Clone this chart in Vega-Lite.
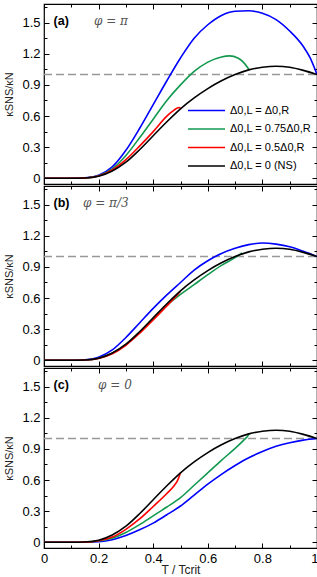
{
"$schema": "https://vega.github.io/schema/vega-lite/v6.json",
"padding": {"left": 2, "top": 2, "right": 1, "bottom": 0},
"spacing": 2,
"bounds": "flush",
"config": {
  "view": {"stroke": "#000", "strokeWidth": 1.2},
  "font": "Liberation Sans",
  "axis": {"domain": false, "grid": false, "tickColor": "#000", "tickWidth": 1, "labelFont": "Liberation Sans", "labelFontSize": 13, "labelColor": "#000", "labelFlush": false, "titleFont": "Liberation Sans", "titleFontWeight": "normal", "titleColor": "#222", "zindex": 1}
},
"resolve": {"scale": {"color": "independent"}},
"datasets": {"curves": [
{"p":"a","s":"full","T":0,"k":0},{"p":"a","s":"full","T":0.05,"k":0},{"p":"a","s":"full","T":0.1,"k":0},{"p":"a","s":"full","T":0.15,"k":0.004},{"p":"a","s":"full","T":0.2,"k":0.03},{"p":"a","s":"full","T":0.25,"k":0.11},{"p":"a","s":"full","T":0.3,"k":0.27},{"p":"a","s":"full","T":0.35,"k":0.48},{"p":"a","s":"full","T":0.4,"k":0.71},{"p":"a","s":"full","T":0.45,"k":0.94},{"p":"a","s":"full","T":0.5,"k":1.16},{"p":"a","s":"full","T":0.55,"k":1.35},{"p":"a","s":"full","T":0.6,"k":1.48},{"p":"a","s":"full","T":0.65,"k":1.57},{"p":"a","s":"full","T":0.7,"k":1.61},{"p":"a","s":"full","T":0.75,"k":1.615},{"p":"a","s":"full","T":0.8,"k":1.59},{"p":"a","s":"full","T":0.85,"k":1.53},{"p":"a","s":"full","T":0.9,"k":1.42},{"p":"a","s":"full","T":0.95,"k":1.27},{"p":"a","s":"full","T":0.975,"k":1.16},{"p":"a","s":"full","T":1,"k":1.0},
{"p":"a","s":"0.75","T":0,"k":0},{"p":"a","s":"0.75","T":0.05,"k":0},{"p":"a","s":"0.75","T":0.1,"k":0},{"p":"a","s":"0.75","T":0.15,"k":0.003},{"p":"a","s":"0.75","T":0.2,"k":0.025},{"p":"a","s":"0.75","T":0.25,"k":0.09},{"p":"a","s":"0.75","T":0.3,"k":0.22},{"p":"a","s":"0.75","T":0.35,"k":0.39},{"p":"a","s":"0.75","T":0.4,"k":0.57},{"p":"a","s":"0.75","T":0.45,"k":0.75},{"p":"a","s":"0.75","T":0.5,"k":0.9},{"p":"a","s":"0.75","T":0.55,"k":1.03},{"p":"a","s":"0.75","T":0.6,"k":1.12},{"p":"a","s":"0.75","T":0.65,"k":1.17},{"p":"a","s":"0.75","T":0.68,"k":1.18},{"p":"a","s":"0.75","T":0.71,"k":1.16},{"p":"a","s":"0.75","T":0.73,"k":1.12},{"p":"a","s":"0.75","T":0.745,"k":1.07},{"p":"a","s":"0.75","T":0.75,"k":1.05},
{"p":"a","s":"0.5","T":0,"k":0},{"p":"a","s":"0.5","T":0.05,"k":0},{"p":"a","s":"0.5","T":0.1,"k":0},{"p":"a","s":"0.5","T":0.15,"k":0.003},{"p":"a","s":"0.5","T":0.2,"k":0.022},{"p":"a","s":"0.5","T":0.25,"k":0.08},{"p":"a","s":"0.5","T":0.3,"k":0.18},{"p":"a","s":"0.5","T":0.35,"k":0.31},{"p":"a","s":"0.5","T":0.4,"k":0.45},{"p":"a","s":"0.5","T":0.45,"k":0.6},{"p":"a","s":"0.5","T":0.47,"k":0.645},{"p":"a","s":"0.5","T":0.485,"k":0.672},{"p":"a","s":"0.5","T":0.495,"k":0.682},{"p":"a","s":"0.5","T":0.5,"k":0.675},
{"p":"b","s":"full","T":0,"k":0},{"p":"b","s":"full","T":0.05,"k":0},{"p":"b","s":"full","T":0.1,"k":0},{"p":"b","s":"full","T":0.15,"k":0.004},{"p":"b","s":"full","T":0.2,"k":0.03},{"p":"b","s":"full","T":0.25,"k":0.1},{"p":"b","s":"full","T":0.3,"k":0.22},{"p":"b","s":"full","T":0.35,"k":0.36},{"p":"b","s":"full","T":0.4,"k":0.5},{"p":"b","s":"full","T":0.45,"k":0.63},{"p":"b","s":"full","T":0.5,"k":0.75},{"p":"b","s":"full","T":0.55,"k":0.87},{"p":"b","s":"full","T":0.6,"k":0.96},{"p":"b","s":"full","T":0.65,"k":1.03},{"p":"b","s":"full","T":0.7,"k":1.08},{"p":"b","s":"full","T":0.75,"k":1.115},{"p":"b","s":"full","T":0.8,"k":1.13},{"p":"b","s":"full","T":0.85,"k":1.12},{"p":"b","s":"full","T":0.9,"k":1.095},{"p":"b","s":"full","T":0.95,"k":1.05},{"p":"b","s":"full","T":1,"k":1.0},
{"p":"b","s":"0.75","T":0,"k":0},{"p":"b","s":"0.75","T":0.05,"k":0},{"p":"b","s":"0.75","T":0.1,"k":0},{"p":"b","s":"0.75","T":0.15,"k":0.003},{"p":"b","s":"0.75","T":0.2,"k":0.02},{"p":"b","s":"0.75","T":0.25,"k":0.068},{"p":"b","s":"0.75","T":0.3,"k":0.152},{"p":"b","s":"0.75","T":0.35,"k":0.27},{"p":"b","s":"0.75","T":0.4,"k":0.405},{"p":"b","s":"0.75","T":0.45,"k":0.53},{"p":"b","s":"0.75","T":0.5,"k":0.635},{"p":"b","s":"0.75","T":0.55,"k":0.73},{"p":"b","s":"0.75","T":0.6,"k":0.825},{"p":"b","s":"0.75","T":0.65,"k":0.915},{"p":"b","s":"0.75","T":0.7,"k":0.99},{"p":"b","s":"0.75","T":0.725,"k":1.035},
{"p":"b","s":"0.5","T":0,"k":0},{"p":"b","s":"0.5","T":0.05,"k":0},{"p":"b","s":"0.5","T":0.1,"k":0},{"p":"b","s":"0.5","T":0.15,"k":0.003},{"p":"b","s":"0.5","T":0.2,"k":0.018},{"p":"b","s":"0.5","T":0.25,"k":0.063},{"p":"b","s":"0.5","T":0.3,"k":0.145},{"p":"b","s":"0.5","T":0.35,"k":0.26},{"p":"b","s":"0.5","T":0.4,"k":0.39},{"p":"b","s":"0.5","T":0.45,"k":0.525},{"p":"b","s":"0.5","T":0.49,"k":0.635},{"p":"b","s":"0.5","T":0.5,"k":0.665},
{"p":"c","s":"full","T":0,"k":0},{"p":"c","s":"full","T":0.05,"k":0},{"p":"c","s":"full","T":0.1,"k":0},{"p":"c","s":"full","T":0.15,"k":0.001},{"p":"c","s":"full","T":0.2,"k":0.006},{"p":"c","s":"full","T":0.25,"k":0.025},{"p":"c","s":"full","T":0.3,"k":0.065},{"p":"c","s":"full","T":0.35,"k":0.12},{"p":"c","s":"full","T":0.4,"k":0.185},{"p":"c","s":"full","T":0.45,"k":0.265},{"p":"c","s":"full","T":0.5,"k":0.35},{"p":"c","s":"full","T":0.55,"k":0.455},{"p":"c","s":"full","T":0.6,"k":0.56},{"p":"c","s":"full","T":0.65,"k":0.655},{"p":"c","s":"full","T":0.7,"k":0.74},{"p":"c","s":"full","T":0.75,"k":0.815},{"p":"c","s":"full","T":0.8,"k":0.875},{"p":"c","s":"full","T":0.85,"k":0.925},{"p":"c","s":"full","T":0.9,"k":0.96},{"p":"c","s":"full","T":0.95,"k":0.985},{"p":"c","s":"full","T":1,"k":1.0},
{"p":"c","s":"0.75","T":0,"k":0},{"p":"c","s":"0.75","T":0.05,"k":0},{"p":"c","s":"0.75","T":0.1,"k":0},{"p":"c","s":"0.75","T":0.15,"k":0.002},{"p":"c","s":"0.75","T":0.2,"k":0.012},{"p":"c","s":"0.75","T":0.25,"k":0.04},{"p":"c","s":"0.75","T":0.3,"k":0.095},{"p":"c","s":"0.75","T":0.35,"k":0.17},{"p":"c","s":"0.75","T":0.4,"k":0.255},{"p":"c","s":"0.75","T":0.45,"k":0.34},{"p":"c","s":"0.75","T":0.5,"k":0.43},{"p":"c","s":"0.75","T":0.55,"k":0.55},{"p":"c","s":"0.75","T":0.6,"k":0.67},{"p":"c","s":"0.75","T":0.65,"k":0.79},{"p":"c","s":"0.75","T":0.7,"k":0.905},{"p":"c","s":"0.75","T":0.73,"k":0.98},{"p":"c","s":"0.75","T":0.745,"k":1.02},{"p":"c","s":"0.75","T":0.752,"k":1.045},
{"p":"c","s":"0.5","T":0,"k":0},{"p":"c","s":"0.5","T":0.05,"k":0},{"p":"c","s":"0.5","T":0.1,"k":0},{"p":"c","s":"0.5","T":0.15,"k":0.002},{"p":"c","s":"0.5","T":0.2,"k":0.015},{"p":"c","s":"0.5","T":0.25,"k":0.05},{"p":"c","s":"0.5","T":0.3,"k":0.125},{"p":"c","s":"0.5","T":0.35,"k":0.225},{"p":"c","s":"0.5","T":0.4,"k":0.345},{"p":"c","s":"0.5","T":0.45,"k":0.47},{"p":"c","s":"0.5","T":0.475,"k":0.54},{"p":"c","s":"0.5","T":0.49,"k":0.6},{"p":"c","s":"0.5","T":0.5,"k":0.67},
{"p":"all","s":"NS","T":0,"k":0},{"p":"all","s":"NS","T":0.05,"k":0},{"p":"all","s":"NS","T":0.1,"k":0},{"p":"all","s":"NS","T":0.15,"k":0.003},{"p":"all","s":"NS","T":0.2,"k":0.02},{"p":"all","s":"NS","T":0.25,"k":0.07},{"p":"all","s":"NS","T":0.3,"k":0.155},{"p":"all","s":"NS","T":0.35,"k":0.275},{"p":"all","s":"NS","T":0.4,"k":0.41},{"p":"all","s":"NS","T":0.45,"k":0.545},{"p":"all","s":"NS","T":0.5,"k":0.67},{"p":"all","s":"NS","T":0.55,"k":0.775},{"p":"all","s":"NS","T":0.6,"k":0.865},{"p":"all","s":"NS","T":0.65,"k":0.94},{"p":"all","s":"NS","T":0.7,"k":1.0},{"p":"all","s":"NS","T":0.75,"k":1.045},{"p":"all","s":"NS","T":0.8,"k":1.07},{"p":"all","s":"NS","T":0.85,"k":1.08},{"p":"all","s":"NS","T":0.9,"k":1.07},{"p":"all","s":"NS","T":0.95,"k":1.04},{"p":"all","s":"NS","T":1,"k":1.0}
]},
"vconcat": [
{
  "width": 273, "height": 180,
  "resolve": {"axis": {"x": "independent", "y": "independent"}},
  "layer": [
    {
      "data": {"values": [{"ref": 1}]},
      "mark": {"type": "rule", "strokeDash": [8, 4], "color": "#999999", "strokeWidth": 1.5},
      "encoding": {
        "x": {"datum": 0, "type": "quantitative", "axis": {"orient": "top", "values": [0, 0.2, 0.4, 0.6, 0.8, 1], "labels": false, "tickSize": -5, "title": null, "minExtent": 0, "maxExtent": 0}},
        "x2": {"datum": 1},
        "y": {"field": "ref", "type": "quantitative", "axis": {"orient": "right", "values": [0, 0.3, 0.6, 0.9, 1.2, 1.5], "labels": false, "tickSize": -5, "title": null, "minExtent": 0, "maxExtent": 0}}
      }
    },
    {
      "data": {"name": "curves"},
      "transform": [{"filter": "datum.p == 'a' || datum.p == 'all'"}],
      "mark": {"type": "line", "strokeWidth": 1.6, "interpolate": "monotone", "clip": true},
      "encoding": {
        "x": {"field": "T", "type": "quantitative", "scale": {"domain": [0, 1], "nice": false, "zero": false}, "axis": {"orient": "bottom", "values": [0, 0.2, 0.4, 0.6, 0.8, 1], "labels": false, "tickSize": -5, "title": null, "minExtent": 0, "maxExtent": 0}},
        "y": {"field": "k", "type": "quantitative", "scale": {"domain": [-0.055, 1.68], "nice": false, "zero": false}, "axis": {"orient": "left", "values": [0, 0.3, 0.6, 0.9, 1.2, 1.5], "format": ".1~f", "tickSize": -5, "labelPadding": 9, "title": "κSNS/κN", "titleFontSize": 11, "titlePadding": 4, "minExtent": 26, "maxExtent": 26}},
        "color": {"field": "s", "type": "nominal", "scale": {"domain": ["full", "0.75", "0.5", "NS"], "range": ["#0000ff", "#12994f", "#ff0000", "#000000"]},
          "legend": {"orient": "none", "legendX": 157, "legendY": 101, "title": null, "symbolType": "M-5,0H5", "symbolSize": 55, "symbolStrokeWidth": 1.6, "labelFontSize": 11, "labelFont": "Liberation Sans", "labelColor": "#000", "labelOffset": 18, "rowPadding": 6.5, "padding": 0, "labelLimit": 200,
            "labelExpr": "datum.value == 'full' ? 'Δ0,L = Δ0,R' : datum.value == '0.75' ? 'Δ0,L = 0.75Δ0,R' : datum.value == '0.5' ? 'Δ0,L = 0.5Δ0,R' : 'Δ0,L = 0 (NS)'"}}
      }
    },
    {
      "data": {"values": [{"label": "(a)"}]},
      "mark": {"type": "text", "align": "left", "baseline": "middle", "fontWeight": "bold", "fontSize": 12.5},
      "encoding": {
        "text": {"field": "label"},
        "x": {"datum": 0.035, "type": "quantitative", "axis": {"orient": "bottom", "values": [0.1, 0.3, 0.5, 0.7, 0.9], "labels": false, "tickSize": -3, "title": null, "minExtent": 0, "maxExtent": 0}},
        "y": {"datum": 1.52, "type": "quantitative", "axis": {"orient": "left", "values": [0.15, 0.45, 0.75, 1.05, 1.35, 1.65], "labels": false, "tickSize": -3, "title": null}}
      }
    },
    {
      "data": {"values": [{"label": "φ = π"}]},
      "mark": {"type": "text", "align": "left", "baseline": "middle", "fontSize": 12, "color": "#555", "font": "DejaVu Serif", "fontStyle": "italic"},
      "encoding": {
        "text": {"field": "label"},
        "x": {"datum": 0.183, "type": "quantitative", "axis": {"orient": "top", "values": [0.1, 0.3, 0.5, 0.7, 0.9], "labels": false, "tickSize": -3, "title": null, "minExtent": 0, "maxExtent": 0}},
        "y": {"datum": 1.52, "type": "quantitative", "axis": {"orient": "right", "values": [0.15, 0.45, 0.75, 1.05, 1.35, 1.65], "labels": false, "tickSize": -3, "title": null, "minExtent": 0, "maxExtent": 0}}
      }
    }
  ]
},
{
  "width": 273, "height": 180,
  "resolve": {"axis": {"x": "independent", "y": "independent"}},
  "layer": [
    {
      "data": {"values": [{"ref": 1}]},
      "mark": {"type": "rule", "strokeDash": [8, 4], "color": "#999999", "strokeWidth": 1.5},
      "encoding": {
        "x": {"datum": 0, "type": "quantitative", "axis": {"orient": "top", "values": [0, 0.2, 0.4, 0.6, 0.8, 1], "labels": false, "tickSize": -5, "title": null, "minExtent": 0, "maxExtent": 0}},
        "x2": {"datum": 1},
        "y": {"field": "ref", "type": "quantitative", "axis": {"orient": "right", "values": [0, 0.3, 0.6, 0.9, 1.2, 1.5], "labels": false, "tickSize": -5, "title": null, "minExtent": 0, "maxExtent": 0}}
      }
    },
    {
      "data": {"name": "curves"},
      "transform": [{"filter": "datum.p == 'b' || datum.p == 'all'"}],
      "mark": {"type": "line", "strokeWidth": 1.6, "interpolate": "monotone", "clip": true},
      "encoding": {
        "x": {"field": "T", "type": "quantitative", "scale": {"domain": [0, 1], "nice": false, "zero": false}, "axis": {"orient": "bottom", "values": [0, 0.2, 0.4, 0.6, 0.8, 1], "labels": false, "tickSize": -5, "title": null, "minExtent": 0, "maxExtent": 0}},
        "y": {"field": "k", "type": "quantitative", "scale": {"domain": [-0.055, 1.68], "nice": false, "zero": false}, "axis": {"orient": "left", "values": [0, 0.3, 0.6, 0.9, 1.2, 1.5], "format": ".1~f", "tickSize": -5, "labelPadding": 9, "title": "κSNS/κN", "titleFontSize": 11, "titlePadding": 4, "minExtent": 26, "maxExtent": 26}},
        "color": {"field": "s", "type": "nominal", "scale": {"domain": ["full", "0.75", "0.5", "NS"], "range": ["#0000ff", "#12994f", "#ff0000", "#000000"]}, "legend": null}
      }
    },
    {
      "data": {"values": [{"label": "(b)"}]},
      "mark": {"type": "text", "align": "left", "baseline": "middle", "fontWeight": "bold", "fontSize": 12.5},
      "encoding": {
        "text": {"field": "label"},
        "x": {"datum": 0.035, "type": "quantitative", "axis": {"orient": "bottom", "values": [0.1, 0.3, 0.5, 0.7, 0.9], "labels": false, "tickSize": -3, "title": null, "minExtent": 0, "maxExtent": 0}},
        "y": {"datum": 1.52, "type": "quantitative", "axis": {"orient": "left", "values": [0.15, 0.45, 0.75, 1.05, 1.35, 1.65], "labels": false, "tickSize": -3, "title": null}}
      }
    },
    {
      "data": {"values": [{"label": "φ = π/3"}]},
      "mark": {"type": "text", "align": "left", "baseline": "middle", "fontSize": 12, "color": "#555", "font": "DejaVu Serif", "fontStyle": "italic"},
      "encoding": {
        "text": {"field": "label"},
        "x": {"datum": 0.143, "type": "quantitative", "axis": {"orient": "top", "values": [0.1, 0.3, 0.5, 0.7, 0.9], "labels": false, "tickSize": -3, "title": null, "minExtent": 0, "maxExtent": 0}},
        "y": {"datum": 1.52, "type": "quantitative", "axis": {"orient": "right", "values": [0.15, 0.45, 0.75, 1.05, 1.35, 1.65], "labels": false, "tickSize": -3, "title": null, "minExtent": 0, "maxExtent": 0}}
      }
    }
  ]
},
{
  "width": 273, "height": 180,
  "resolve": {"axis": {"x": "independent", "y": "independent"}},
  "layer": [
    {
      "data": {"values": [{"ref": 1}]},
      "mark": {"type": "rule", "strokeDash": [8, 4], "color": "#999999", "strokeWidth": 1.5},
      "encoding": {
        "x": {"datum": 0, "type": "quantitative", "axis": {"orient": "top", "values": [0, 0.2, 0.4, 0.6, 0.8, 1], "labels": false, "tickSize": -5, "title": null, "minExtent": 0, "maxExtent": 0}},
        "x2": {"datum": 1},
        "y": {"field": "ref", "type": "quantitative", "axis": {"orient": "right", "values": [0, 0.3, 0.6, 0.9, 1.2, 1.5], "labels": false, "tickSize": -5, "title": null, "minExtent": 0, "maxExtent": 0}}
      }
    },
    {
      "data": {"name": "curves"},
      "transform": [{"filter": "datum.p == 'c' || datum.p == 'all'"}],
      "mark": {"type": "line", "strokeWidth": 1.6, "interpolate": "monotone", "clip": true},
      "encoding": {
        "x": {"field": "T", "type": "quantitative", "scale": {"domain": [0, 1], "nice": false, "zero": false}, "axis": {"orient": "bottom", "values": [0, 0.2, 0.4, 0.6, 0.8, 1], "format": ".1~f", "tickSize": -5, "labelPadding": 9, "labelAlign": {"condition": {"test": "datum.value == 1", "value": "right"}, "value": "center"}, "labelOffset": {"condition": {"test": "datum.value == 1", "value": 1}, "value": 0}, "title": "T / Tcrit", "titleFontSize": 12, "titlePadding": -1}},
        "y": {"field": "k", "type": "quantitative", "scale": {"domain": [-0.055, 1.68], "nice": false, "zero": false}, "axis": {"orient": "left", "values": [0, 0.3, 0.6, 0.9, 1.2, 1.5], "format": ".1~f", "tickSize": -5, "labelPadding": 9, "title": "κSNS/κN", "titleFontSize": 11, "titlePadding": 4, "minExtent": 26, "maxExtent": 26}},
        "color": {"field": "s", "type": "nominal", "scale": {"domain": ["full", "0.75", "0.5", "NS"], "range": ["#0000ff", "#12994f", "#ff0000", "#000000"]}, "legend": null}
      }
    },
    {
      "data": {"values": [{"label": "(c)"}]},
      "mark": {"type": "text", "align": "left", "baseline": "middle", "fontWeight": "bold", "fontSize": 12.5},
      "encoding": {
        "text": {"field": "label"},
        "x": {"datum": 0.035, "type": "quantitative", "axis": {"orient": "bottom", "values": [0.1, 0.3, 0.5, 0.7, 0.9], "labels": false, "tickSize": -3, "title": null, "minExtent": 0, "maxExtent": 0}},
        "y": {"datum": 1.52, "type": "quantitative", "axis": {"orient": "left", "values": [0.15, 0.45, 0.75, 1.05, 1.35, 1.65], "labels": false, "tickSize": -3, "title": null}}
      }
    },
    {
      "data": {"values": [{"label": "φ = 0"}]},
      "mark": {"type": "text", "align": "left", "baseline": "middle", "fontSize": 12, "color": "#555", "font": "DejaVu Serif", "fontStyle": "italic"},
      "encoding": {
        "text": {"field": "label"},
        "x": {"datum": 0.198, "type": "quantitative", "axis": {"orient": "top", "values": [0.1, 0.3, 0.5, 0.7, 0.9], "labels": false, "tickSize": -3, "title": null, "minExtent": 0, "maxExtent": 0}},
        "y": {"datum": 1.52, "type": "quantitative", "axis": {"orient": "right", "values": [0.15, 0.45, 0.75, 1.05, 1.35, 1.65], "labels": false, "tickSize": -3, "title": null, "minExtent": 0, "maxExtent": 0}}
      }
    }
  ]
}
]
}
